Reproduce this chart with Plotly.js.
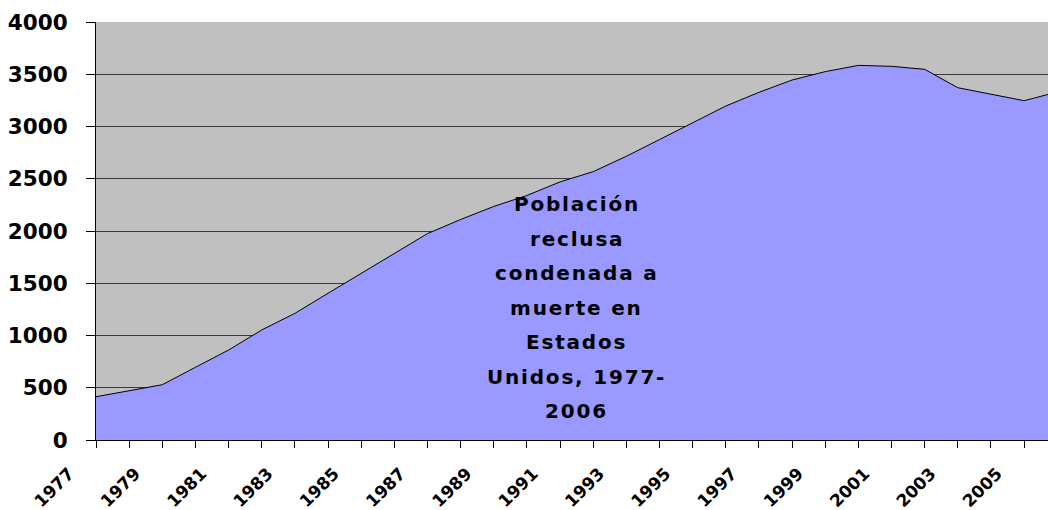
<!doctype html>
<html lang="es"><head><meta charset="utf-8" />
<script src="https://cdn.plot.ly/plotly-3.0.1.min.js"></script>
<style>
  body { margin:0; background:#fff; }
  #chart { width:1048px; height:510px; }
</style></head>
<body>
<div id="chart"></div>
<script>
// Población reclusa condenada a muerte en EE.UU.
const years = [1977, 1978, 1979, 1980, 1981, 1982, 1983, 1984, 1985, 1986,
  1987, 1988, 1989, 1990, 1991, 1992, 1993, 1994, 1995, 1996,
  1997, 1998, 1999, 2000, 2001, 2002, 2003, 2004, 2005, 2006];
const reclusos = [414, 470, 529, 696, 861, 1053, 1212, 1404, 1592, 1780,
  1975, 2110, 2235, 2340, 2470, 2568, 2715, 2875, 3035, 3196,
  3327, 3445, 3525, 3585, 3576, 3547, 3371, 3311, 3247, 3330];
const yTicks = [0, 500, 1000, 1500, 2000, 2500, 3000, 3500, 4000];
const xLabelYears = [1977, 1979, 1981, 1983, 1985, 1987, 1989, 1991,
  1993, 1995, 1997, 1999, 2001, 2003, 2005];
const titleLines = ['Población', 'reclusa', 'condenada a', 'muerte en',
  'Estados', 'Unidos, 1977-', '2006'];

const FONT = 'DejaVu Sans, Verdana, sans-serif';
const H = 510, T = 22, B = 70, PH = H - T - B;

const trace = {
  type: 'scatter', mode: 'lines', x: years, y: reclusos,
  fill: 'tozeroy', fillcolor: '#9999ff',
  line: { color: '#000', width: 1 }, hoverinfo: 'x+y',
};

// una anotación por línea: el rótulo original tiene interlineado amplio
const firstBase = 211, lineStep = 34.5;
const annotations = titleLines.map((t, i) => ({
  xref: 'paper', yref: 'paper', x: 0.505,
  y: (H - B - (firstBase + i * lineStep - 7)) / PH,
  xanchor: 'center', yanchor: 'middle', showarrow: false,
  text: '<span style="letter-spacing:1.8px">' + t + '</span>',
  font: { family: FONT, size: 20, weight: 'bold', color: '#000' },
}));

const layout = {
  width: 1048, height: H,
  margin: { l: 96, r: 0, t: T, b: B, pad: 0 },
  paper_bgcolor: '#fff', plot_bgcolor: '#c0c0c0',
  showlegend: false,
  xaxis: {
    range: [1977, 2005.72],
    tickmode: 'array', tickvals: xLabelYears, ticktext: xLabelYears.map(String),
    tickangle: -45, ticks: 'outside', ticklen: 7, tickcolor: '#000',
    ticklabelstandoff: 9, ticklabelshift: -27,
    minor: { tickmode: 'array', tickvals: years, ticks: 'outside', ticklen: 7, tickcolor: '#000', showgrid: false },
    showgrid: false, zeroline: false,
    showline: true, linecolor: '#000', linewidth: 1,
    tickfont: { family: FONT, size: 17, weight: 'bold', color: '#000' },
    fixedrange: true,
  },
  yaxis: {
    range: [0, 4000],
    tickmode: 'array', tickvals: yTicks, ticktext: yTicks.map(String),
    ticks: 'outside', ticklen: 9, tickcolor: '#000',
    ticklabelstandoff: 14,
    showgrid: true, gridcolor: '#3a3a3a', gridwidth: 1,
    zeroline: false, showline: true, linecolor: '#000', linewidth: 1,
    tickfont: { family: FONT, size: 21.5, weight: 'bold', color: '#000' },
    fixedrange: true,
  },
  annotations,
};

Plotly.newPlot('chart', [trace], layout, { displayModeBar: false, staticPlot: true });
</script>
</body></html>
